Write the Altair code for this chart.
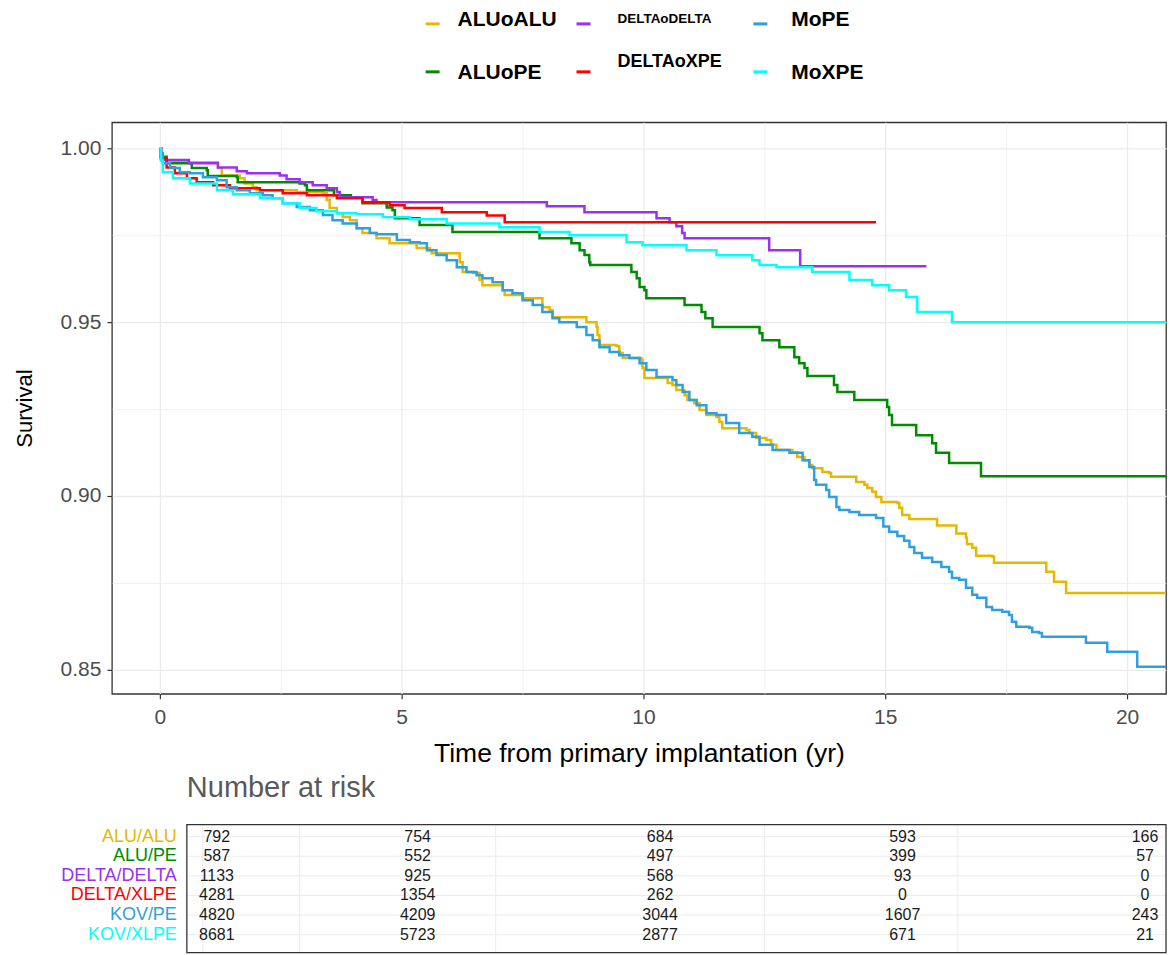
import altair as alt
import pandas as pd

FONT = "Liberation Sans"

groups = ["ALUoALU", "ALUoPE", "DELTAoDELTA", "DELTAoXPE", "MoPE", "MoXPE"]
colors = ["#E7B800", "#008B00", "#9B30F0", "#FF0000", "#2E9FDF", "#00FFFF"]

# Kaplan-Meier step points (time in years, survival after the step)
alu_alu = [(0, 1.0), (0.02, 0.9977), (0.14, 0.9960), (1.20, 0.9943), (1.28, 0.9922), (1.65, 0.9914),
           (1.75, 0.9899), (1.92, 0.9888), (2.00, 0.9879), (2.83, 0.9874), (3.37, 0.9871), (3.45, 0.9851),
           (3.51, 0.9828), (3.66, 0.9813), (3.78, 0.9802), (3.93, 0.9793), (4.07, 0.9770), (4.19, 0.9756),
           (4.48, 0.9741), (4.75, 0.9727), (5.31, 0.9713), (5.58, 0.9707), (5.62, 0.9698), (6.20, 0.9672),
           (6.26, 0.9644), (6.47, 0.9641), (6.61, 0.9621), (6.67, 0.9606), (7.09, 0.9592), (7.13, 0.9578),
           (7.50, 0.9569), (7.91, 0.9543), (8.06, 0.9534), (8.12, 0.9514), (8.82, 0.9500), (9.03, 0.9486),
           (9.05, 0.9463), (9.09, 0.9434), (9.44, 0.9431), (9.50, 0.9411), (9.57, 0.9397), (9.96, 0.9391),
           (9.98, 0.9368), (10.02, 0.9339), (10.50, 0.9325), (10.60, 0.9319), (10.68, 0.9305), (10.85, 0.9290),
           (10.91, 0.9276), (11.05, 0.9267), (11.16, 0.9247), (11.30, 0.9233), (11.51, 0.9227), (11.57, 0.9213),
           (11.63, 0.9195), (12.13, 0.9190), (12.19, 0.9181), (12.33, 0.9167), (12.54, 0.9161), (12.64, 0.9147),
           (12.75, 0.9132), (13.08, 0.9126), (13.18, 0.9112), (13.33, 0.9103), (13.43, 0.9089), (13.49, 0.9080),
           (13.70, 0.9069), (13.84, 0.9066), (13.88, 0.9055), (14.40, 0.9040), (14.57, 0.9032), (14.63, 0.9023),
           (14.73, 0.9012), (14.81, 0.8997), (14.92, 0.8983), (15.25, 0.8980), (15.29, 0.8966), (15.35, 0.8945),
           (15.50, 0.8934), (16.07, 0.8915), (16.47, 0.8892), (16.67, 0.8880), (16.69, 0.8862), (16.80, 0.8851),
           (16.88, 0.8828), (17.21, 0.8826), (17.25, 0.8808), (18.33, 0.8782), (18.49, 0.8753), (18.74, 0.8721),
           (21.0, 0.8721)]

alu_pe = [(0, 1.0), (0.02, 0.9974), (0.14, 0.9957), (0.66, 0.9943), (0.97, 0.9937), (0.99, 0.9920),
          (1.59, 0.9917), (1.61, 0.9902), (2.89, 0.9899), (3.00, 0.9894), (3.04, 0.9879), (3.60, 0.9865),
          (3.95, 0.9859), (4.19, 0.9842), (4.69, 0.9830), (4.81, 0.9822), (4.86, 0.9799), (5.37, 0.9779),
          (6.05, 0.9759), (7.85, 0.9741), (8.51, 0.9727), (8.68, 0.9707), (8.78, 0.9693), (8.88, 0.9672),
          (8.90, 0.9664), (9.75, 0.9644), (9.86, 0.9626), (9.92, 0.9601), (10.02, 0.9592), (10.06, 0.9569),
          (10.85, 0.9549), (11.20, 0.9529), (11.28, 0.9511), (11.43, 0.9486), (12.40, 0.9468), (12.46, 0.9448),
          (12.81, 0.9428), (13.12, 0.9399), (13.22, 0.9382), (13.33, 0.9368), (13.39, 0.9345), (13.94, 0.9319),
          (14.01, 0.9299), (14.36, 0.9276), (15.04, 0.9256), (15.08, 0.9233), (15.14, 0.9204), (15.64, 0.9175),
          (15.97, 0.9152), (16.05, 0.9124), (16.32, 0.9095), (16.98, 0.9057), (21.0, 0.9057)]

delta_delta = [(0, 1.0), (0.03, 0.9966), (0.60, 0.9957), (1.20, 0.9945), (1.59, 0.9934), (1.80, 0.9928),
               (2.48, 0.9922), (2.62, 0.9911), (2.89, 0.9902), (3.16, 0.9894), (3.45, 0.9885), (3.66, 0.9874),
               (3.72, 0.9859), (4.40, 0.9851), (4.48, 0.9845), (8.00, 0.9833), (8.78, 0.9816), (10.27, 0.9799),
               (10.54, 0.9787), (10.68, 0.9776), (10.80, 0.9756), (10.85, 0.9741), (12.60, 0.9707),
               (13.24, 0.9661), (15.85, 0.9661)]

delta_xpe = [(0, 1.0), (0.02, 0.9971), (0.14, 0.9945), (0.31, 0.9928), (0.56, 0.9914), (0.76, 0.9902),
             (1.10, 0.9894), (1.45, 0.9885), (2.07, 0.9879), (2.54, 0.9871), (3.04, 0.9865), (3.66, 0.9856),
             (4.19, 0.9845), (4.75, 0.9836), (5.06, 0.9828), (5.83, 0.9816), (6.76, 0.9807), (7.13, 0.9787),
             (14.81, 0.9787)]

m_pe = [(0, 1.0), (0.02, 0.9986), (0.06, 0.9957), (0.21, 0.9943), (0.41, 0.9931), (0.62, 0.9928),
        (0.89, 0.9917), (1.18, 0.9908), (1.38, 0.9888), (1.59, 0.9879), (1.86, 0.9871), (2.13, 0.9865),
        (2.33, 0.9856), (2.54, 0.9842), (2.83, 0.9831), (3.10, 0.9822), (3.37, 0.9808), (3.57, 0.9793),
        (3.78, 0.9784), (4.07, 0.9770), (4.34, 0.9756), (4.48, 0.9753), (4.90, 0.9736), (5.17, 0.9730),
        (5.37, 0.9727), (5.52, 0.9707), (5.72, 0.9693), (5.93, 0.9678), (6.14, 0.9658), (6.34, 0.9644),
        (6.55, 0.9635), (6.67, 0.9626), (6.88, 0.9615), (7.09, 0.9592), (7.29, 0.9583), (7.50, 0.9563),
        (7.71, 0.9549), (7.91, 0.9529), (8.12, 0.9511), (8.26, 0.9500), (8.62, 0.9486), (8.82, 0.9463),
        (8.95, 0.9448), (9.09, 0.9428), (9.30, 0.9414), (9.50, 0.9405), (9.71, 0.9397), (9.92, 0.9382),
        (10.06, 0.9362), (10.27, 0.9342), (10.60, 0.9333), (10.68, 0.9319), (10.81, 0.9299), (10.95, 0.9276),
        (11.10, 0.9261), (11.30, 0.9238), (11.51, 0.9233), (11.71, 0.9210), (11.98, 0.9181), (12.25, 0.9170),
        (12.40, 0.9147), (12.67, 0.9132), (13.02, 0.9124), (13.29, 0.9103), (13.43, 0.9083), (13.53, 0.9046),
        (13.57, 0.9032), (13.78, 0.9017), (13.84, 0.8997), (13.99, 0.8968), (14.05, 0.8960), (14.26, 0.8954),
        (14.46, 0.8945), (14.81, 0.8937), (14.96, 0.8912), (15.08, 0.8897), (15.25, 0.8885), (15.39, 0.8871),
        (15.50, 0.8853), (15.60, 0.8836), (15.76, 0.8822), (15.97, 0.8810), (16.16, 0.8796), (16.32, 0.8782),
        (16.38, 0.8764), (16.53, 0.8759), (16.67, 0.8736), (16.80, 0.8716), (16.90, 0.8707), (17.09, 0.8681),
        (17.21, 0.8672), (17.42, 0.8667), (17.56, 0.8658), (17.62, 0.8638), (17.71, 0.8624), (17.98, 0.8621),
        (18.04, 0.8609), (18.18, 0.8606), (18.24, 0.8595), (19.15, 0.8578), (19.59, 0.8552), (20.21, 0.8509),
        (21.0, 0.8509)]

m_xpe = [(0, 1.0), (0.02, 0.9965), (0.06, 0.9931), (0.27, 0.9914), (0.62, 0.9899), (1.18, 0.9879),
         (1.51, 0.9868), (2.07, 0.9856), (2.54, 0.9842), (2.89, 0.9828), (3.24, 0.9819), (3.66, 0.9813),
         (4.07, 0.9810), (4.61, 0.9802), (5.17, 0.9796), (5.93, 0.9784), (7.02, 0.9773), (7.85, 0.9759),
         (8.47, 0.9750), (9.65, 0.9730), (9.98, 0.9721), (10.89, 0.9707), (11.51, 0.9692), (12.25, 0.9678),
         (12.40, 0.9664), (12.75, 0.9658), (13.49, 0.9644), (14.26, 0.9621), (14.73, 0.9606), (15.08, 0.9592),
         (15.43, 0.9572), (15.66, 0.9529), (16.38, 0.9500), (21.0, 0.9500)]

# Number at risk table
risk_groups = ["ALU/ALU", "ALU/PE", "DELTA/DELTA", "DELTA/XLPE", "KOV/PE", "KOV/XLPE"]
risk_times = [0, 5, 10, 15, 20]
risk_alu_alu = [792, 754, 684, 593, 166]
risk_alu_pe = [587, 552, 497, 399, 57]
risk_delta_delta = [1133, 925, 568, 93, 0]
risk_delta_xlpe = [4281, 1354, 262, 0, 0]
risk_kov_pe = [4820, 4209, 3044, 1607, 243]
risk_kov_xlpe = [8681, 5723, 2877, 671, 21]
risk_grid_times = [-0.35, 2.06, 6.61, 12.15, 16.14]

x_ticks = [0, 2.5, 5, 7.5, 10, 12.5, 15, 17.5, 20]
y_ticks = [0.85, 0.875, 0.9, 0.925, 0.95, 0.975, 1.0]

# ---- build tables ----
series = [alu_alu, alu_pe, delta_delta, delta_xpe, m_pe, m_xpe]
rows = []
for g, pts in zip(groups, series):
    for i, (t, s) in enumerate(pts):
        rows.append({"group": g, "t": t, "s": s, "i": i})
curves = pd.DataFrame(rows)

risk_lists = [risk_alu_alu, risk_alu_pe, risk_delta_delta, risk_delta_xlpe, risk_kov_pe, risk_kov_xlpe]
risk_rows = []
for g, vals in zip(risk_groups, risk_lists):
    for t, n in zip(risk_times, vals):
        risk_rows.append({"grp": g, "time": t, "n": n})
risk = pd.DataFrame(risk_rows)
risk_rows_df = pd.DataFrame({"grp": risk_groups})
risk_grid_df = pd.DataFrame({"time": risk_grid_times})
frame_df = pd.DataFrame({"k": [0]})

legend_df = pd.DataFrame({"group": groups, "col": [0, 0, 1, 1, 2, 2], "row": [0, 1, 0, 1, 0, 1]})

color_scale = alt.Scale(domain=groups, range=colors)

W_MAIN = 1055
TABLE_LEFT = 75
TABLE_H = 128
PX_PER_YR = 48.4
X_LO = -0.992

# ---- legend (top) ----
sym_x = alt.X("col:Q", scale=alt.Scale(domain=[0, 1, 2], range=[321, 472, 649]), axis=None)
txt_x = alt.X("col:Q", scale=alt.Scale(domain=[0, 1, 2], range=[346, 506, 680]), axis=None)
ly_scale = alt.Scale(domain=[0, 1], range=[-2.5, 45.5])
leg_sym = alt.Chart(legend_df).mark_rule(strokeWidth=3, xOffset=-7, x2Offset=7).encode(
    x=sym_x, x2=alt.X2("col:Q"), y=alt.Y("row:Q", scale=ly_scale, axis=None),
    color=alt.Color("group:N", scale=color_scale, legend=None))


def leg_text(filter_expr, shift_expr, size):
    return alt.Chart(legend_df).transform_filter(filter_expr).transform_calculate(
        ty=shift_expr
    ).mark_text(align="left", baseline="middle", fontSize=size, fontWeight="bold",
                font=FONT, color="black").encode(
        x=txt_x, y=alt.Y("ty:Q", scale=ly_scale, axis=None), text="group:N")


leg_txt = leg_text("datum.group != 'DELTAoDELTA' && datum.group != 'DELTAoXPE'",
                   "datum.row == 0 ? datum.row - 0.08 : datum.row + 0.02", 21)
leg_txt2 = leg_text("datum.group == 'DELTAoDELTA'", "datum.row - 0.1", 13.5)
leg_txt3 = leg_text("datum.group == 'DELTAoXPE'", "datum.row - 0.21", 18)
legend = alt.layer(leg_sym, alt.layer(leg_txt, leg_txt2, leg_txt3)).resolve_scale(
    x="independent"
).properties(width=W_MAIN, height=90, view=alt.ViewBackground(stroke="transparent"))

# ---- main KM plot ----
minor_x = "datum.value % 5 !== 0"
minor_y = "round(datum.value * 1000) % 50 !== 0"

x_axis = alt.Axis(values=x_ticks, title="Time from primary implantation (yr)",
                  labelExpr="datum.value % 5 === 0 ? format(datum.value, 'd') : ''",
                  labelOverlap=False, labelFlush=False,
                  tickColor={"condition": {"test": minor_x, "value": "transparent"}, "value": "#333333"},
                  gridWidth={"condition": {"test": minor_x, "value": 0.7}, "value": 1.3},
                  gridColor="#EBEBEB", domain=False, tickSize=5, tickWidth=1.2,
                  labelFontSize=21, labelColor="#4D4D4D", labelPadding=8, labelFont=FONT,
                  titleFontSize=26.5, titleFontWeight="normal", titleColor="black", titlePadding=13,
                  titleFont=FONT)
y_axis = alt.Axis(values=y_ticks, title="Survival",
                  labelExpr="round(datum.value * 1000) % 50 === 0 ? format(datum.value, '.2f') : ''",
                  labelOverlap=False, labelFlush=False,
                  tickColor={"condition": {"test": minor_y, "value": "transparent"}, "value": "#333333"},
                  gridWidth={"condition": {"test": minor_y, "value": 0.7}, "value": 1.3},
                  gridColor="#EBEBEB", domain=False, tickSize=5, tickWidth=1.2,
                  labelFontSize=21, labelColor="#4D4D4D", labelPadding=6, labelFont=FONT,
                  minExtent=62, maxExtent=62,
                  titleFontSize=22, titleFontWeight="normal", titleColor="black", titlePadding=13,
                  titleFont=FONT)

main = alt.Chart(curves).mark_line(interpolate="step-after", strokeWidth=2.5, clip=True).encode(
    x=alt.X("t:Q", scale=alt.Scale(domain=[X_LO, X_LO + W_MAIN / PX_PER_YR], nice=False, zero=False),
            axis=x_axis),
    y=alt.Y("s:Q", scale=alt.Scale(domain=[0.8431, 1.00747], nice=False, zero=False), axis=y_axis),
    color=alt.Color("group:N", scale=color_scale, legend=None),
    order=alt.Order("i:Q"),
).properties(width=W_MAIN, height=572)

# ---- number at risk table ----
tx_scale = alt.Scale(domain=[0, 5, 20], range=[105, 306, 1034], nice=False, zero=False)
ty_scale = alt.Scale(type="point", domain=risk_groups, padding=0.765, align=0.4)
risk_color = alt.Scale(domain=risk_groups, range=colors)

t_hgrid = alt.Chart(risk_rows_df).mark_rule(color="#EBEBEB", strokeWidth=1).encode(
    y=alt.Y("grp:N", scale=ty_scale, axis=None),
    x=alt.value(TABLE_LEFT), x2=alt.value(W_MAIN))
t_vgrid = alt.Chart(risk_grid_df).mark_rule(color="#EBEBEB", strokeWidth=1).encode(
    x=alt.X("time:Q", scale=tx_scale, axis=None),
    y=alt.value(0), y2=alt.value(TABLE_H))
t_frame = alt.Chart(frame_df).mark_rect(fillOpacity=0, stroke="#333333", strokeWidth=1.3).encode(
    x=alt.value(TABLE_LEFT), x2=alt.value(W_MAIN), y=alt.value(0), y2=alt.value(TABLE_H))
t_labels = alt.Chart(risk_rows_df).mark_text(align="right", baseline="middle", fontSize=18,
                                             font=FONT, dx=-10).encode(
    x=alt.value(TABLE_LEFT),
    y=alt.Y("grp:N", scale=ty_scale, axis=None),
    text="grp:N",
    color=alt.Color("grp:N", scale=risk_color, legend=None))
t_text = alt.Chart(risk).mark_text(fontSize=16, font=FONT, color="#1A1A1A", baseline="middle").encode(
    x=alt.X("time:Q", scale=tx_scale, axis=None),
    y=alt.Y("grp:N", scale=ty_scale, axis=None),
    text="n:Q",
)
table = alt.layer(t_hgrid, t_vgrid, t_frame, t_labels, t_text).properties(
    width=W_MAIN, height=TABLE_H, view=alt.ViewBackground(stroke="transparent"),
    title=alt.TitleParams("Number at risk", anchor="start", frame="group", fontSize=29,
                          color="#595959", font=FONT, fontWeight="normal", offset=21, dx=TABLE_LEFT),
)

chart = alt.vconcat(legend, main, table, spacing=4).resolve_scale(color="independent").properties(
    padding={"left": 5, "top": 0, "right": 0, "bottom": 0}
).configure(
    font=FONT
).configure_view(stroke="#333333", strokeWidth=1.3)

chart.save("out.html", embed_options={"renderer": "svg", "actions": False})
